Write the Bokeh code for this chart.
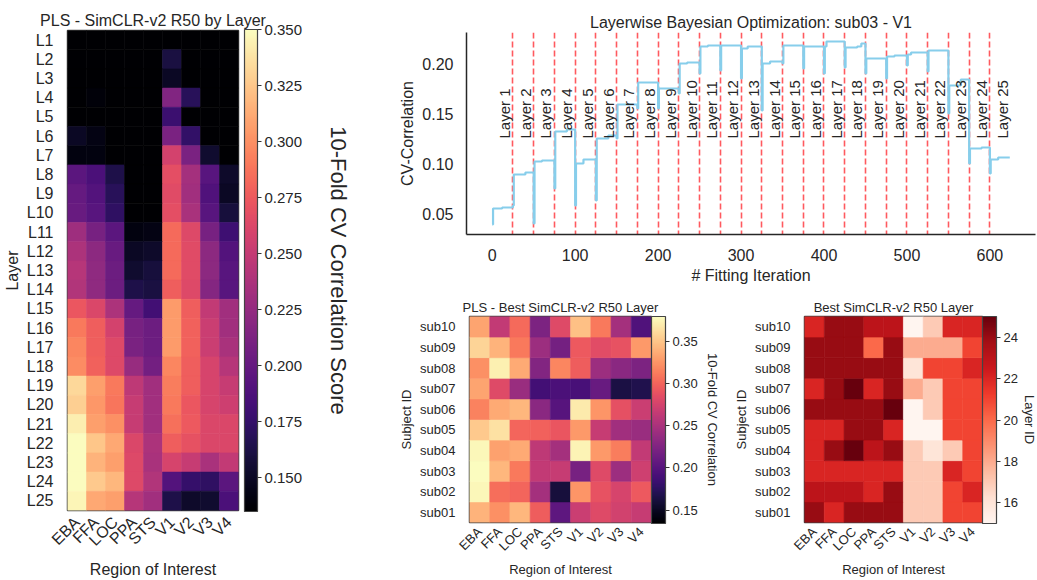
import math
from bokeh.plotting import figure
from bokeh.models import (ColumnDataSource, LinearColorMapper, ColorBar, FixedTicker,
                          NumeralTickFormatter, Title, Range1d)
from bokeh.palettes import Magma256, Reds9
from bokeh.layouts import row, column
from bokeh.embed import file_html
from bokeh.resources import INLINE
from bokeh.core.properties import value

FONT = "Liberation Sans"
TXT = "#262626"

# ---------------- data ----------------
rois = ["EBA", "FFA", "LOC", "PPA", "STS", "V1", "V2", "V3", "V4"]
layers = ["L1", "L2", "L3", "L4", "L5", "L6", "L7", "L8", "L9", "L10", "L11", "L12", "L13",
          "L14", "L15", "L16", "L17", "L18", "L19", "L20", "L21", "L22", "L23", "L24", "L25"]
subjects = ["sub01", "sub02", "sub03", "sub04", "sub05", "sub06", "sub07", "sub08", "sub09", "sub10"]

# PLS score by layer (rows L1..L25, columns = rois)
layer_scores = [
    [0.118, 0.121, 0.115, 0.112, 0.110, 0.128, 0.117, 0.113, 0.108],
    [0.121, 0.125, 0.117, 0.112, 0.110, 0.161, 0.130, 0.118, 0.110],
    [0.123, 0.126, 0.118, 0.113, 0.111, 0.150, 0.129, 0.119, 0.112],
    [0.131, 0.139, 0.124, 0.114, 0.112, 0.215, 0.169, 0.127, 0.118],
    [0.129, 0.132, 0.121, 0.113, 0.111, 0.178, 0.133, 0.122, 0.115],
    [0.150, 0.143, 0.128, 0.114, 0.112, 0.212, 0.174, 0.131, 0.120],
    [0.141, 0.141, 0.130, 0.115, 0.113, 0.258, 0.212, 0.154, 0.128],
    [0.195, 0.187, 0.163, 0.118, 0.115, 0.268, 0.234, 0.193, 0.152],
    [0.200, 0.191, 0.169, 0.119, 0.116, 0.266, 0.232, 0.189, 0.150],
    [0.202, 0.193, 0.172, 0.121, 0.118, 0.268, 0.236, 0.193, 0.159],
    [0.230, 0.210, 0.195, 0.141, 0.143, 0.283, 0.264, 0.210, 0.180],
    [0.238, 0.221, 0.202, 0.150, 0.152, 0.283, 0.266, 0.221, 0.191],
    [0.243, 0.223, 0.204, 0.154, 0.159, 0.283, 0.266, 0.221, 0.193],
    [0.240, 0.223, 0.204, 0.163, 0.161, 0.277, 0.264, 0.217, 0.193],
    [0.273, 0.262, 0.238, 0.200, 0.182, 0.305, 0.277, 0.249, 0.232],
    [0.290, 0.277, 0.258, 0.210, 0.204, 0.305, 0.279, 0.253, 0.232],
    [0.296, 0.277, 0.264, 0.212, 0.204, 0.305, 0.279, 0.253, 0.236],
    [0.298, 0.279, 0.264, 0.227, 0.208, 0.296, 0.277, 0.260, 0.243],
    [0.333, 0.307, 0.290, 0.247, 0.232, 0.292, 0.277, 0.260, 0.251],
    [0.329, 0.303, 0.288, 0.251, 0.232, 0.290, 0.273, 0.260, 0.255],
    [0.343, 0.307, 0.300, 0.251, 0.232, 0.286, 0.275, 0.262, 0.262],
    [0.350, 0.324, 0.311, 0.262, 0.238, 0.277, 0.270, 0.262, 0.262],
    [0.350, 0.316, 0.307, 0.264, 0.236, 0.260, 0.251, 0.236, 0.249],
    [0.350, 0.326, 0.318, 0.264, 0.240, 0.191, 0.176, 0.172, 0.195],
    [0.346, 0.311, 0.307, 0.243, 0.232, 0.163, 0.152, 0.154, 0.187],
]

# best-layer PLS score (rows sub01..sub10)
best_scores = [
    [0.341, 0.323, 0.343, 0.296, 0.205, 0.269, 0.282, 0.274, 0.267],
    [0.377, 0.306, 0.301, 0.247, 0.161, 0.326, 0.289, 0.277, 0.294],
    [0.380, 0.343, 0.311, 0.264, 0.267, 0.220, 0.282, 0.242, 0.272],
    [0.377, 0.331, 0.336, 0.262, 0.247, 0.375, 0.328, 0.313, 0.264],
    [0.353, 0.365, 0.301, 0.299, 0.291, 0.328, 0.267, 0.245, 0.240],
    [0.316, 0.336, 0.343, 0.232, 0.200, 0.370, 0.326, 0.287, 0.269],
    [0.333, 0.282, 0.240, 0.188, 0.193, 0.191, 0.210, 0.164, 0.168],
    [0.323, 0.373, 0.336, 0.227, 0.318, 0.296, 0.242, 0.232, 0.223],
    [0.358, 0.341, 0.311, 0.242, 0.218, 0.294, 0.284, 0.289, 0.328],
    [0.333, 0.264, 0.304, 0.223, 0.282, 0.348, 0.311, 0.247, 0.196],
]

# best layer id (rows sub01..sub10)
best_layer = [
    [24, 22, 24, 24, 24, 17, 17, 21, 21],
    [23, 23, 23, 22, 24, 17, 17, 21, 22],
    [22, 22, 22, 22, 22, 17, 17, 22, 21],
    [22, 24, 25, 23, 24, 17, 16, 17, 21],
    [22, 22, 24, 24, 22, 15, 15, 21, 21],
    [24, 24, 24, 24, 25, 15, 17, 21, 21],
    [22, 24, 25, 22, 24, 18, 17, 21, 21],
    [24, 24, 24, 24, 24, 16, 21, 21, 22],
    [24, 24, 24, 20, 24, 18, 18, 18, 21],
    [22, 24, 24, 23, 23, 15, 17, 22, 22],
]

# Bayesian optimisation trace (step breakpoints: iteration, best CV-correlation)
fit_iter = [0, 1, 12, 25, 26, 40, 50, 51, 60, 75, 76, 90, 100, 101, 110, 125, 126, 140,
            150, 151, 175, 176, 200, 201, 225, 226, 235, 250, 251, 260, 275, 276,
            300, 301, 308, 325, 326, 335, 350, 351, 375, 376, 400, 401, 403,
            425, 426, 440, 445, 450, 451, 475, 476, 485, 500, 501, 505, 525, 526,
            550, 551, 565, 575, 576, 590, 600, 601, 610, 624]
fit_cv = [0.039, 0.055, 0.056, 0.058, 0.089, 0.091, 0.040, 0.102, 0.103, 0.075, 0.132, 0.134,
          0.058, 0.100, 0.104, 0.063, 0.125, 0.128, 0.125, 0.159, 0.155, 0.181, 0.155, 0.175,
          0.170, 0.200, 0.201, 0.190, 0.217, 0.218, 0.193, 0.218, 0.185, 0.215, 0.217,
          0.153, 0.200, 0.202, 0.200, 0.218, 0.195, 0.217, 0.190, 0.217, 0.222,
          0.196, 0.216, 0.217, 0.220, 0.190, 0.205, 0.185, 0.207, 0.208, 0.198, 0.209, 0.211,
          0.192, 0.213, 0.150, 0.178, 0.184, 0.100, 0.115, 0.116, 0.090, 0.104, 0.106, 0.106]
layer_bounds = [25, 50, 75, 100, 125, 150, 175, 200, 225, 250, 275, 300, 325, 350, 375,
                400, 425, 450, 475, 500, 525, 550, 575, 600]
layer_label_x = [25, 50, 75, 100, 125, 150, 175, 200, 225, 250, 275, 300, 325, 350, 375,
                 400, 425, 450, 475, 500, 525, 550, 575, 600, 625]
layer_label_text = ["Layer %d" % (i + 1) for i in range(25)]


# ---------------- helpers ----------------
def interp_palette(colors, n=256):
    rgb = [tuple(int(c[i:i + 2], 16) for i in (1, 3, 5)) for c in colors]
    out = []
    for k in range(n):
        t = k / (n - 1) * (len(rgb) - 1)
        i = min(int(t), len(rgb) - 2)
        f = t - i
        c = tuple(round(rgb[i][j] + (rgb[i + 1][j] - rgb[i][j]) * f) for j in range(3))
        out.append("#%02x%02x%02x" % c)
    return out


Reds256 = interp_palette(list(reversed(Reds9)))


def grid_source(matrix, row_labels):
    xs, ys, vs = [], [], []
    for r, lab in enumerate(row_labels):
        for c, roi in enumerate(rois):
            xs.append(roi)
            ys.append(lab)
            vs.append(matrix[r][c])
    return ColumnDataSource(dict(roi=xs, row=ys, val=vs))


def style_heatmap(p, tick_fs, label_fs, title_fs, xl_standoff=3, xa_standoff=3):
    p.grid.grid_line_color = None
    p.axis.axis_line_color = None
    p.axis.major_tick_line_color = None
    p.axis.minor_tick_line_color = None
    p.axis.major_label_text_font = FONT
    p.axis.major_label_text_font_size = tick_fs
    p.axis.major_label_text_color = TXT
    p.axis.axis_label_text_font = FONT
    p.axis.axis_label_text_font_size = label_fs
    p.axis.axis_label_text_font_style = "normal"
    p.axis.axis_label_text_color = TXT
    p.yaxis.axis_label_standoff = 3
    p.xaxis.axis_label_standoff = xa_standoff
    p.xaxis.major_label_orientation = math.pi / 4
    p.xaxis.major_label_standoff = xl_standoff
    p.yaxis.major_label_standoff = 8
    p.outline_line_color = "#444444"
    p.outline_line_width = 1.5
    p.title.text_font = FONT
    p.title.text_font_size = title_fs
    p.title.text_font_style = "normal"
    p.title.text_color = TXT
    p.title.align = "center"
    p.title.standoff = 3
    p.background_fill_color = "white"
    p.border_fill_color = "white"


def add_colorbar(p, mapper, ticks, fmt, fs, bar_w, bar_h, label, label_fs, label_gap,
                 pad=0, margin=5, loc="top_right"):
    cb = ColorBar(color_mapper=mapper, width=bar_w, height=bar_h,
                  ticker=FixedTicker(ticks=ticks), formatter=NumeralTickFormatter(format=fmt),
                  major_label_text_font=FONT, major_label_text_font_size=fs,
                  major_label_text_color=TXT, major_tick_out=4, major_tick_in=0,
                  major_tick_line_color="#333333", minor_tick_line_color=None,
                  bar_line_color="#444444", bar_line_width=1.2, padding=pad, margin=margin,
                  location=loc, label_standoff=3, background_fill_alpha=0,
                  border_line_color=None)
    p.add_layout(cb, "right")
    p.add_layout(Title(text=label, align="center", text_font=FONT, text_font_size=label_fs,
                       text_font_style="normal", text_color=TXT, standoff=label_gap), "right")


# ---------------- panel A : layer heatmap ----------------
mapA = LinearColorMapper(palette=Magma256, low=0.135, high=0.350)
pA = figure(width=396, height=580, x_range=rois, y_range=list(reversed(layers)),
            title="PLS - SimCLR-v2 R50 by Layer", output_backend="svg", toolbar_location=None,
            min_border_left=64, min_border_right=158, min_border_top=30, min_border_bottom=62)
srcA = grid_source(layer_scores, layers)
pA.rect(x="roi", y="row", width=1, height=1, source=srcA,
        fill_color={"field": "val", "transform": mapA},
        line_color={"field": "val", "transform": mapA}, line_width=0.6)
style_heatmap(pA, "16px", "16px", "16px")
pA.xaxis.axis_label = "Region of Interest"
pA.yaxis.axis_label = "Layer"
add_colorbar(pA, mapA, [0.150, 0.175, 0.200, 0.225, 0.250, 0.275, 0.300, 0.325, 0.350],
             "0.000", "15px", 13, 482, "10-Fold CV Correlation Score", "22px", 29,
             pad=6, margin=0, loc="center_left")

# ---------------- panel B : optimisation trace ----------------
pB = figure(width=641, height=286, x_range=Range1d(-31, 655), y_range=Range1d(0.029, 0.231),
            title="Layerwise Bayesian Optimization: sub03 - V1", output_backend="svg",
            toolbar_location=None, min_border_left=64, min_border_right=2,
            min_border_top=32, min_border_bottom=52)
pB.vspan(x=layer_bounds, line_color="#ff5a5f", line_width=1.6, line_dash="6 3")
pB.step(x=fit_iter, y=fit_cv, mode="after", line_color="#87CEEB", line_width=2.2)
pB.text(x=layer_label_x, y=[0.125] * len(layer_label_x), text=layer_label_text,
        angle=math.pi / 2, text_align="left", text_baseline="bottom",
        text_font=value(FONT), text_font_size="15px", text_color=TXT)
pB.grid.grid_line_color = None
pB.outline_line_color = None
pB.axis.axis_line_color = "#262626"
pB.axis.axis_line_width = 1.5
pB.axis.major_tick_line_color = None
pB.axis.minor_tick_line_color = None
pB.axis.major_label_text_font = FONT
pB.axis.major_label_text_font_size = "16px"
pB.axis.major_label_text_color = TXT
pB.axis.axis_label_text_font = FONT
pB.axis.axis_label_text_font_size = "16px"
pB.axis.axis_label_text_font_style = "normal"
pB.axis.axis_label_text_color = TXT
pB.axis.axis_label_standoff = 3
pB.xaxis.major_label_standoff = 8
pB.yaxis.major_label_standoff = 7
pB.xaxis.ticker = FixedTicker(ticks=[0, 100, 200, 300, 400, 500, 600])
pB.yaxis.ticker = FixedTicker(ticks=[0.05, 0.10, 0.15, 0.20])
pB.yaxis.formatter = NumeralTickFormatter(format="0.00")
pB.xaxis.axis_label = "# Fitting Iteration"
pB.yaxis.axis_label = "CV-Correlation"
pB.title.text_font = FONT
pB.title.text_font_size = "16px"
pB.title.text_font_style = "normal"
pB.title.text_color = TXT
pB.title.align = "center"
pB.title.standoff = 3

# ---------------- panel C : best-layer score heatmap ----------------
mapC = LinearColorMapper(palette=Magma256, low=0.134, high=0.380)
pC = figure(width=335, height=294, x_range=rois, y_range=subjects,
            title="PLS - Best SimCLR-v2 R50 Layer", output_backend="svg", toolbar_location=None,
            min_border_left=64, min_border_right=80, min_border_top=30, min_border_bottom=56)
srcC = grid_source(best_scores, subjects)
pC.rect(x="roi", y="row", width=1, height=1, source=srcC,
        fill_color={"field": "val", "transform": mapC},
        line_color={"field": "val", "transform": mapC}, line_width=0.6)
style_heatmap(pC, "13px", "13px", "13px", xl_standoff=1, xa_standoff=0)
pC.xaxis.axis_label = "Region of Interest"
pC.yaxis.axis_label = "Subject ID"
add_colorbar(pC, mapC, [0.15, 0.20, 0.25, 0.30, 0.35], "0.00", "13px", 14, 207,
             "10-Fold CV Correlation", "13px", 9)

# ---------------- panel D : best layer id heatmap ----------------
mapD = LinearColorMapper(palette=Reds256, low=15, high=25)
pD = figure(width=315, height=294, x_range=rois, y_range=subjects,
            title="Best SimCLR-v2 R50 Layer", output_backend="svg", toolbar_location=None,
            min_border_left=66, min_border_right=64, min_border_top=30, min_border_bottom=56)
srcD = grid_source(best_layer, subjects)
pD.rect(x="roi", y="row", width=1, height=1, source=srcD,
        fill_color={"field": "val", "transform": mapD},
        line_color={"field": "val", "transform": mapD}, line_width=0.6)
style_heatmap(pD, "13px", "13px", "13px", xl_standoff=1, xa_standoff=0)
pD.xaxis.axis_label = "Region of Interest"
pD.yaxis.axis_label = "Subject ID"
add_colorbar(pD, mapD, [16, 18, 20, 22, 24], "0", "13px", 14, 207, "Layer ID", "13px", 3)

layout = row(pA, column(pB, row(pC, pD)))
open("out.html", "w").write(file_html(layout, INLINE))
